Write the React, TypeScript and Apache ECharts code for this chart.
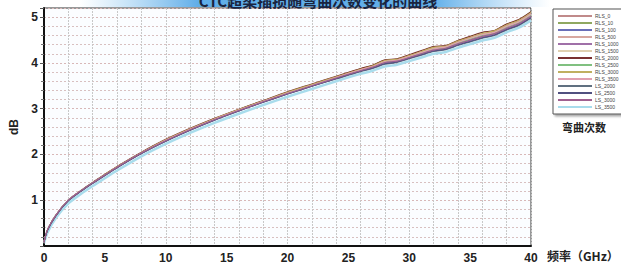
import React, { useEffect, useRef } from "react";
import * as echarts from "echarts";

const freq = [0, 0.3, 1, 2, 3, 4, 5, 6, 8, 10, 12, 14, 16, 18, 20, 22, 24, 26, 27, 28, 29, 30, 31, 32, 33, 34, 35, 36, 37, 38, 39, 40];

const RLS_0 = [0.08, 0.36, 0.68, 1.0, 1.2, 1.38, 1.55, 1.72, 2.03, 2.31, 2.55, 2.77, 2.97, 3.17, 3.35, 3.52, 3.69, 3.86, 3.93, 4.04, 4.06, 4.15, 4.24, 4.33, 4.35, 4.46, 4.55, 4.63, 4.68, 4.81, 4.91, 5.08];
const RLS_10 = [0.08, 0.36, 0.68, 1.0, 1.2, 1.38, 1.55, 1.72, 2.03, 2.31, 2.55, 2.77, 2.98, 3.17, 3.36, 3.53, 3.7, 3.87, 3.95, 4.06, 4.08, 4.16, 4.25, 4.35, 4.37, 4.48, 4.57, 4.66, 4.7, 4.84, 4.94, 5.12];
const RLS_100 = [0.08, 0.36, 0.68, 1.0, 1.2, 1.38, 1.55, 1.72, 2.03, 2.3, 2.54, 2.76, 2.96, 3.15, 3.33, 3.5, 3.67, 3.83, 3.9, 4.0, 4.03, 4.11, 4.19, 4.27, 4.31, 4.41, 4.49, 4.57, 4.63, 4.75, 4.85, 5.01];
const RLS_500 = [0.08, 0.36, 0.68, 1.0, 1.2, 1.38, 1.56, 1.73, 2.04, 2.31, 2.55, 2.77, 2.97, 3.16, 3.34, 3.51, 3.68, 3.85, 3.92, 4.02, 4.06, 4.14, 4.22, 4.3, 4.34, 4.44, 4.52, 4.6, 4.66, 4.79, 4.88, 5.05];
const RLS_1000 = [0.08, 0.36, 0.68, 1.0, 1.2, 1.38, 1.55, 1.72, 2.03, 2.3, 2.54, 2.76, 2.96, 3.15, 3.33, 3.5, 3.66, 3.82, 3.89, 3.99, 4.03, 4.11, 4.19, 4.27, 4.31, 4.41, 4.49, 4.57, 4.63, 4.74, 4.84, 5.0];
const RLS_1500 = [0.08, 0.36, 0.68, 1.0, 1.2, 1.39, 1.56, 1.73, 2.04, 2.31, 2.55, 2.78, 2.98, 3.17, 3.35, 3.53, 3.7, 3.87, 3.94, 4.05, 4.09, 4.17, 4.26, 4.34, 4.38, 4.49, 4.57, 4.65, 4.71, 4.85, 4.95, 5.11];
const RLS_2000 = [0.08, 0.36, 0.68, 1.0, 1.21, 1.39, 1.57, 1.74, 2.05, 2.33, 2.57, 2.79, 2.99, 3.18, 3.37, 3.54, 3.71, 3.88, 3.95, 4.07, 4.09, 4.18, 4.27, 4.36, 4.38, 4.49, 4.58, 4.67, 4.71, 4.85, 4.95, 5.12];
const RLS_2500 = [0.08, 0.36, 0.68, 1.0, 1.2, 1.38, 1.55, 1.72, 2.03, 2.3, 2.54, 2.76, 2.97, 3.16, 3.34, 3.51, 3.68, 3.84, 3.91, 4.02, 4.05, 4.13, 4.21, 4.3, 4.33, 4.43, 4.52, 4.6, 4.65, 4.78, 4.88, 5.04];
const RLS_3000 = [0.08, 0.36, 0.68, 1.0, 1.2, 1.38, 1.56, 1.73, 2.04, 2.32, 2.56, 2.78, 2.98, 3.17, 3.36, 3.53, 3.7, 3.86, 3.94, 4.05, 4.08, 4.16, 4.25, 4.34, 4.37, 4.48, 4.56, 4.64, 4.7, 4.83, 4.93, 5.1];
const RLS_3500 = [0.08, 0.36, 0.68, 1.0, 1.2, 1.38, 1.55, 1.72, 2.03, 2.31, 2.55, 2.77, 2.97, 3.16, 3.34, 3.51, 3.68, 3.85, 3.92, 4.03, 4.06, 4.14, 4.23, 4.31, 4.35, 4.45, 4.54, 4.62, 4.67, 4.8, 4.9, 5.07];
const LS_2000 = [0.08, 0.35, 0.67, 0.99, 1.19, 1.37, 1.54, 1.71, 2.02, 2.29, 2.53, 2.75, 2.95, 3.14, 3.32, 3.49, 3.65, 3.81, 3.88, 3.97, 4.01, 4.09, 4.17, 4.25, 4.29, 4.38, 4.46, 4.54, 4.6, 4.72, 4.82, 4.98];
const LS_2500 = [0.08, 0.35, 0.67, 0.99, 1.19, 1.37, 1.54, 1.71, 2.02, 2.29, 2.53, 2.75, 2.95, 3.14, 3.32, 3.49, 3.66, 3.82, 3.89, 3.98, 4.02, 4.1, 4.18, 4.26, 4.3, 4.39, 4.47, 4.55, 4.61, 4.73, 4.83, 4.99];
const LS_3000 = [0.08, 0.36, 0.68, 1.0, 1.2, 1.38, 1.55, 1.72, 2.03, 2.3, 2.54, 2.76, 2.96, 3.15, 3.33, 3.5, 3.67, 3.83, 3.91, 4.01, 4.04, 4.12, 4.2, 4.28, 4.32, 4.42, 4.5, 4.58, 4.64, 4.76, 4.86, 5.02];
const LS_3500 = [0.06, 0.3, 0.62, 0.93, 1.13, 1.31, 1.48, 1.65, 1.96, 2.23, 2.47, 2.69, 2.89, 3.08, 3.26, 3.43, 3.6, 3.76, 3.83, 3.92, 3.96, 4.04, 4.12, 4.2, 4.24, 4.33, 4.41, 4.49, 4.55, 4.67, 4.77, 4.93];

const seriesNames = ["RLS_0", "RLS_10", "RLS_100", "RLS_500", "RLS_1000", "RLS_1500", "RLS_2000", "RLS_2500", "RLS_3000", "RLS_3500", "LS_2000", "LS_2500", "LS_3000", "LS_3500"];
const seriesValues = [RLS_0, RLS_10, RLS_100, RLS_500, RLS_1000, RLS_1500, RLS_2000, RLS_2500, RLS_3000, RLS_3500, LS_2000, LS_2500, LS_3000, LS_3500];
const seriesColors = ["#c08a8a", "#8fa860", "#6a6fb8", "#d8a8a0", "#a070a8", "#e0d0b0", "#7a3030", "#80c080", "#c0b060", "#e0a0b0", "#607080", "#505080", "#a06090", "#a8dcec"];

const xTicks = [0, 5, 10, 15, 20, 25, 30, 35, 40];
const yTicks = [1, 2, 3, 4, 5];

const titleText = "CTC超柔插损随弯曲次数变化的曲线";
const xName = "频率（GHz）";
const yName = "dB";
const legendTitle = "弯曲次数";

export default function App() {
  const ref = useRef<HTMLDivElement>(null);
  useEffect(() => {
    if (!ref.current) return;
    const chart = echarts.init(ref.current, null, { renderer: "svg" });
    const font = "Liberation Sans";
    const series: any[] = seriesNames.map((name, i) => ({
      name,
      type: "line",
      xAxisIndex: 0,
      yAxisIndex: 0,
      data: freq.map((f, j) => [f, seriesValues[i][j]]),
      showSymbol: false,
      smooth: 0.3,
      z: name === "LS_3500" ? 1 : 3,
      lineStyle: { color: seriesColors[i], width: name === "LS_3500" ? 2.5 : 1.1 },
      itemStyle: { color: seriesColors[i] },
    }));
    const ordered = [series[13], ...series.slice(0, 13)];
    chart.setOption({
      animation: false,
      backgroundColor: "#ffffff",
      grid: {
        left: 43,
        right: 90,
        top: 8,
        bottom: 21,
        show: true,
        borderColor: "#333",
        borderWidth: 1,
        backgroundColor: "#fbfdff",
      },
      legend: {
        data: seriesNames,
        orient: "vertical",
        left: 553,
        top: 9,
        itemWidth: 34,
        itemHeight: 2,
        itemGap: 1,
        icon: "rect",
        padding: [4, 6, 4, 5],
        backgroundColor: "#fff",
        borderColor: "#555",
        borderWidth: 1,
        shadowColor: "rgba(0,0,0,0.35)",
        shadowBlur: 2,
        shadowOffsetX: 2,
        shadowOffsetY: 2,
        textStyle: { fontSize: 5, lineHeight: 6, color: "#444", fontFamily: font, padding: [0, 0, 0, -2] },
      },
      xAxis: [
        {
          type: "value",
          min: 0,
          max: 40,
          interval: 5,
          axisLine: { show: true, lineStyle: { color: "#111", width: 2 } },
          axisTick: { show: false },
          splitLine: { show: false },
          axisLabel: {
            fontSize: 12,
            fontWeight: "bold",
            color: "#222",
            fontFamily: font,
            margin: 6,
            formatter: (v: number) => (xTicks.includes(v) ? String(v) : ""),
          },
        },
        {
          type: "value",
          min: 0,
          max: 40,
          interval: 2,
          position: "bottom",
          axisLine: { show: false },
          axisTick: { show: false },
          axisLabel: { show: false },
          splitLine: { show: true, lineStyle: { color: "#c8c8c8", width: 1, type: [2, 1] } },
        },
      ],
      yAxis: {
        type: "value",
        min: 0,
        max: 5.2,
        interval: 1,
        name: yName,
        nameLocation: "middle",
        nameGap: 24,
        nameRotate: 90,
        nameTextStyle: { fontSize: 12, fontWeight: "bold", color: "#222", fontFamily: font },
        axisLine: { show: true, lineStyle: { color: "#111", width: 2 } },
        axisTick: { show: true, length: 4, lineStyle: { color: "#555" } },
        minorTick: { show: true, splitNumber: 5, length: 3, lineStyle: { color: "#777" } },
        splitLine: { show: true, lineStyle: { color: "#d8b8b8", width: 1, type: [2, 2] } },
        minorSplitLine: { show: true, lineStyle: { color: "#d8c0c0", width: 1, type: [2, 2] } },
        axisLabel: {
          fontSize: 12,
          fontWeight: "bold",
          color: "#222",
          fontFamily: font,
          margin: 6,
          formatter: (v: number) => (yTicks.includes(v) ? String(v) : ""),
        },
      },
      graphic: [
        {
          type: "rect",
          shape: { x: 80, y: 0, width: 470, height: 7 },
          style: {
            fill: new echarts.graphic.LinearGradient(0, 0, 1, 0, [
              { offset: 0, color: "rgba(120,190,240,0)" },
              { offset: 0.25, color: "rgba(80,165,230,0.9)" },
              { offset: 0.75, color: "rgba(80,165,230,0.9)" },
              { offset: 1, color: "rgba(120,190,240,0)" },
            ]),
          },
          z: 10,
        },
        {
          type: "text",
          x: 318,
          y: -7,
          style: {
            text: titleText,
            fontSize: 15,
            fontWeight: "bold",
            fill: "#1a2440",
            fontFamily: "Noto Sans CJK SC",
            textAlign: "center",
          },
          z: 11,
        },
        {
          type: "text",
          left: 547,
          top: 249,
          style: {
            text: xName,
            fontSize: 12,
            fontWeight: "bold",
            fill: "#222",
            fontFamily: "Noto Sans CJK SC",
          },
        },
        {
          type: "text",
          left: 562,
          top: 121,
          style: {
            text: legendTitle,
            fontSize: 11,
            fontWeight: "bold",
            fill: "#222",
            fontFamily: "Noto Sans CJK SC",
          },
        },
      ],
      series: ordered,
    });
    return () => chart.dispose();
  }, []);
  return <div ref={ref} style={{ position: "fixed", left: 0, top: 0, width: 621, height: 267 }} />;
}
